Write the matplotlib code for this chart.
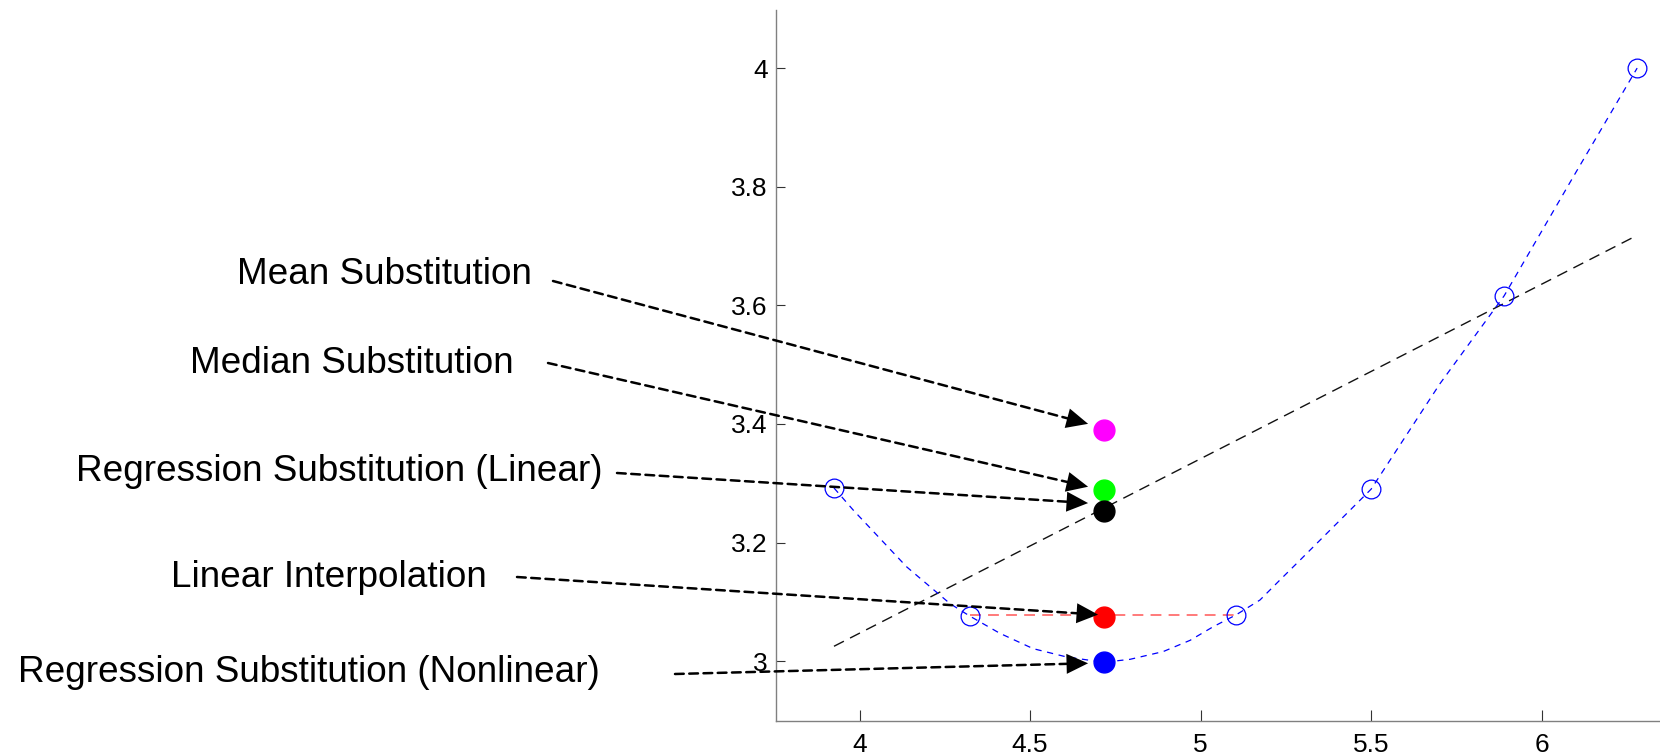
import matplotlib

matplotlib.use("Agg")
import matplotlib.pyplot as plt
from matplotlib import transforms

# observed points (open blue circles); x = 4.717 is the missing one
obs_x = [3.925, 4.323, 5.105, 5.5, 5.89, 6.28]
obs_y = [3.292, 3.076, 3.078, 3.29, 3.616, 4.0]

# smooth dashed curve through the points
curve_x = [3.925, 3.981, 4.138, 4.265, 4.323, 4.411, 4.509, 4.607, 4.716, 4.793,
           4.890, 4.969, 5.037, 5.104, 5.174, 5.233, 5.291, 5.5, 5.702, 5.89, 6.093, 6.28]
curve_y = [3.292, 3.255, 3.159, 3.097, 3.076, 3.047, 3.021, 3.007, 2.998, 3.003,
           3.016, 3.035, 3.058, 3.078, 3.103, 3.137, 3.170, 3.29, 3.468, 3.616, 3.817, 4.0]

# linear regression line end points
fit_x = [3.925, 6.28]
fit_y = [3.025, 3.718]

# linear interpolation segment
interp_x = [4.323, 5.105]
interp_y = [3.077, 3.077]

# imputed values at the missing x
missing_x = 4.717
methods = ["Mean Substitution", "Median Substitution", "Regression Substitution (Linear)",
           "Linear Interpolation", "Regression Substitution (Nonlinear)"]
imputed_y = [3.390, 3.289, 3.253, 3.075, 2.998]
imputed_colors = ["#ff00ff", "#00ff00", "#000000", "#ff0000", "#0000ff"]

xticks = [4, 4.5, 5, 5.5, 6]
xtick_labels = ["4", "4.5", "5", "5.5", "6"]
yticks = [3, 3.2, 3.4, 3.6, 3.8, 4]
ytick_labels = ["3", "3.2", "3.4", "3.6", "3.8", "4"]

W, H = 1660, 755
fig = plt.figure(figsize=(W / 100, H / 100), dpi=100)
ax = fig.add_axes([776 / W, 1 - 721 / H, 1 - 776 / W, (721 - 10) / H])

ax.plot(fit_x, fit_y, color="#111111", lw=1.0, dashes=(8, 5))
ax.plot(interp_x, interp_y, color="#ff6f6f", lw=1.3, dashes=(6, 4))
ax.plot(curve_x, curve_y, color="#0000ff", lw=0.9, dashes=(5, 4.5))
ax.plot(obs_x, obs_y, "o", ms=13.5, mfc="none", mec="#0000ff", mew=0.9)
for yv, c in zip(imputed_y, imputed_colors):
    ax.plot(missing_x, yv, "o", ms=15, color=c, mec=c)

ax.set_xlim(3.755, 6.347)
ax.set_ylim(2.899, 4.098)
ax.set_xticks(xticks, xtick_labels)
ax.set_yticks(yticks, ytick_labels)
for s in ["top", "right"]:
    ax.spines[s].set_visible(False)
for s in ["left", "bottom"]:
    ax.spines[s].set_color("#808080")
    ax.spines[s].set_linewidth(1.0)
ax.tick_params(direction="in", colors="#333333", labelcolor="black", width=0.8)
ax.tick_params(axis="x", length=8, pad=9, labelsize=19)
ax.tick_params(axis="y", length=6.5, pad=6, labelsize=19)
for lab in ax.get_xticklabels() + ax.get_yticklabels():
    lab.set_family(["Liberation Sans", "DejaVu Sans"])

# label right edge / baseline and arrow tail, in pixels
label_px = [(532, 284), (514, 373), (602, 481), (487, 587), (600, 682)]
tail_px = [(553, 281), (548, 363), (617, 473), (517, 577), (675, 674)]
tip_off = [(-16, 6), (-16, 3), (-16, 8), (-6, 2), (-16, -1)]

for name, yv, (lx, ly), (tx, ty), (dx, dy) in zip(methods, imputed_y, label_px, tail_px, tip_off):
    fig.text(lx / W, 1 - ly / H, name, ha="right", va="baseline", fontsize=26.6,
             family=["Liberation Sans", "DejaVu Sans"])
    tip = transforms.offset_copy(ax.transData, fig=fig, x=dx, y=dy, units="dots")
    start = (tx / W, 1 - ty / H)
    # dashed shaft, stopped inside the head
    ax.annotate("", xy=(missing_x, yv), xycoords=tip,
                xytext=start, textcoords="figure fraction", annotation_clip=False,
                arrowprops=dict(arrowstyle="-", color="black", lw=1.8,
                                linestyle=(0, (3.5, 2.2)), shrinkA=0, shrinkB=9))
    # solid filled head
    ax.annotate("", xy=(missing_x, yv), xycoords=tip,
                xytext=start, textcoords="figure fraction", annotation_clip=False,
                arrowprops=dict(arrowstyle="-|>,head_length=1.55,head_width=0.72",
                                mutation_scale=10, color="black", lw=0,
                                shrinkA=0, shrinkB=0))

fig.savefig("out.png", dpi=100)
